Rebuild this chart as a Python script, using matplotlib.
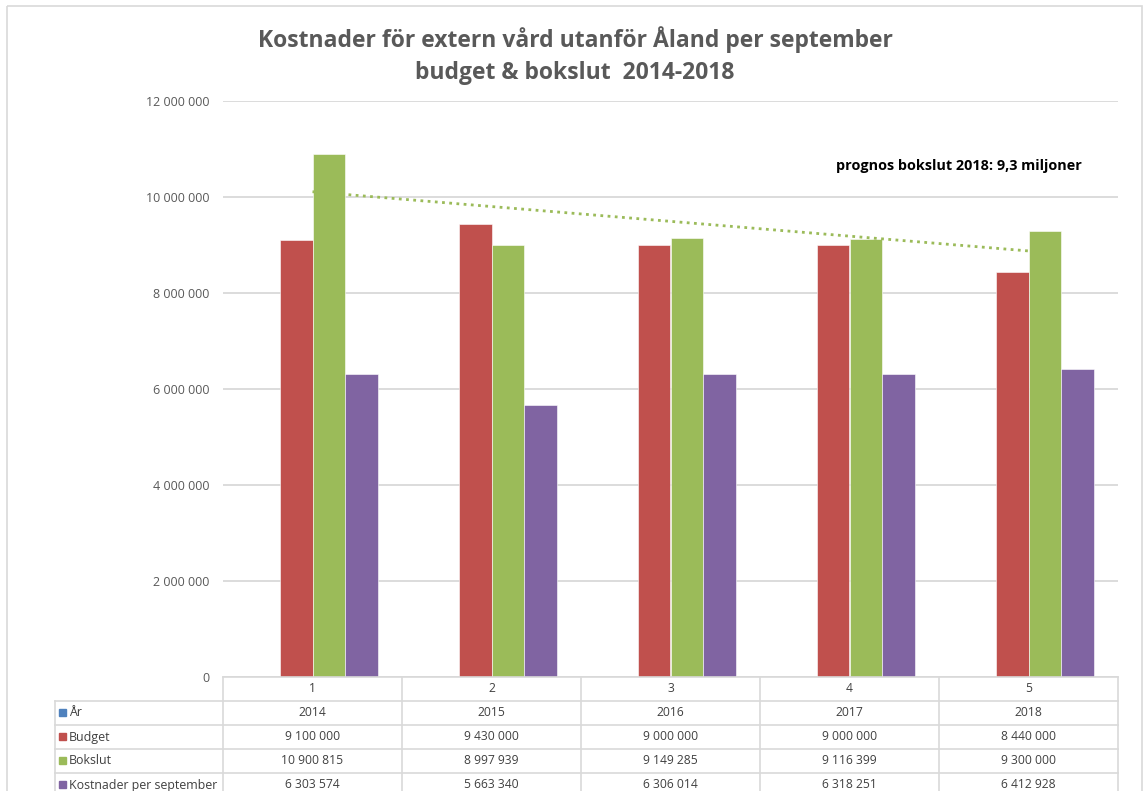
import numpy as np
import matplotlib
matplotlib.use("Agg")
import matplotlib.pyplot as plt
from matplotlib.patches import Rectangle

plt.rcParams['font.family'] = ['Open Sans', 'DejaVu Sans']

# data
kategorier = [1, 2, 3, 4, 5]
ar = [2014, 2015, 2016, 2017, 2018]
budget = [9100000, 9430000, 9000000, 9000000, 8440000]
bokslut = [10900815, 8997939, 9149285, 9116399, 9300000]
kostnader = [6303574, 5663340, 6306014, 6318251, 6412928]

serie_namn = ["År", "Budget", "Bokslut", "Kostnader per september"]
serie_data = [ar, budget, bokslut, kostnader]
farger = ["#4F81BD", "#C0504D", "#9BBB59", "#8064A2"]

def fmt(v):
    return "{:,}".format(int(v)).replace(",", " ")

W, H = 1145, 791
fig = plt.figure(figsize=(W / 100, H / 100), dpi=100)

# plot area in pixels
px_l, px_r, px_t, px_b = 223, 1118, 101, 677
ax = fig.add_axes([px_l / W, 1 - px_b / H, (px_r - px_l) / W, (px_b - px_t) / H])

x = np.array(kategorier, dtype=float)
bw = 0.1816
for i, (namn, vals, c) in enumerate(zip(serie_namn, serie_data, farger)):
    ax.bar(x + (i - 1.5) * bw, vals, bw, color=c, edgecolor="white", linewidth=0.4, zorder=3)

# linjär trend för bokslut
k, m = np.polyfit(x, bokslut, 1)
ax.plot(x, k * x + m, linestyle=(0, (1, 1.6)), color="#9BBB59", lw=2, zorder=4)

ax.set_xlim(0.5, 5.5)
ax.set_ylim(0, 12000000)
ticks = np.arange(0, 12000001, 2000000)
ax.set_yticks(ticks)
ax.set_yticklabels([fmt(t) for t in ticks], fontsize=9, color="#595959")
ax.tick_params(axis="y", length=0, pad=10)
ax.set_xticks([])
ax.grid(axis="y", color="#D9D9D9", lw=1.3, zorder=0)
for s in ax.spines.values():
    s.set_visible(False)

ax.text(4.61, 10650000, "prognos bokslut 2018: 9,3 miljoner", ha="center", va="center",
        fontsize=10.4, fontweight="bold", color="black")

# overlay in pixel coordinates: title, border, data table
ov = fig.add_axes([0, 0, 1, 1])
ov.set_xlim(0, W)
ov.set_ylim(H, 0)
ov.axis("off")
ov.patch.set_alpha(0)

ov.add_patch(Rectangle((7, 6), 1135, 800, fill=False, edgecolor="#D9D9D9", lw=1.2))

ov.text(575, 40, "Kostnader för extern vård utanför Åland per september", ha="center", va="center",
        fontsize=16.5, fontweight="bold", color="#595959")
ov.text(575, 73, "budget & bokslut  2014-2018", ha="center", va="center",
        fontsize=16.5, fontweight="bold", color="#595959")

lc = "#D9D9D9"
rh = 24
cw = (px_r - px_l) / len(kategorier)
tab_l = 55
n_rows = len(serie_namn)
bottom = px_b + rh * (n_rows + 1)
# horizontal lines
ov.plot([px_l, px_r], [px_b, px_b], color=lc, lw=1.2)
for r in range(1, n_rows + 1):
    ov.plot([tab_l, px_r], [px_b + rh * r, px_b + rh * r], color=lc, lw=1.2)
# vertical lines
ov.plot([tab_l, tab_l], [px_b + rh, bottom], color=lc, lw=1.2)
for c in range(len(kategorier) + 1):
    ov.plot([px_l + cw * c, px_l + cw * c], [px_b, bottom], color=lc, lw=1.2)

tc = "#404040"
for c, kat in enumerate(kategorier):
    ov.text(px_l + cw * (c + 0.5), px_b + rh / 2, str(kat), ha="center", va="center", fontsize=8.7, color=tc)
for r, (namn, vals, col) in enumerate(zip(serie_namn, serie_data, farger)):
    yc = px_b + rh * (r + 1.5)
    ov.add_patch(Rectangle((59, yc - 4), 7, 7, color=col))
    ov.text(69, yc, namn, ha="left", va="center", fontsize=8.9, color=tc)
    for c, v in enumerate(vals):
        s = str(v) if r == 0 else fmt(v)
        ov.text(px_l + cw * (c + 0.5), yc, s, ha="center", va="center", fontsize=8.7, color=tc)

fig.savefig("out.png", dpi=100)
